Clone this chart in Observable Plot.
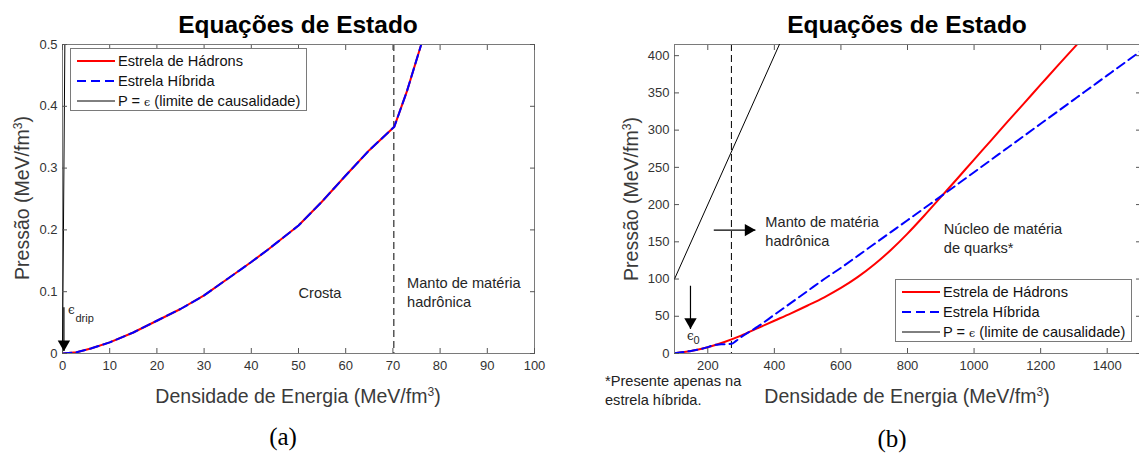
<!DOCTYPE html>
<html>
<head>
<meta charset="utf-8">
<script src="https://cdn.jsdelivr.net/npm/d3@7"></script>
<script src="https://cdn.jsdelivr.net/npm/@observablehq/plot@0.6"></script>
<style>
  html, body { margin: 0; padding: 0; background: #fff; overflow: hidden; }
  #root { position: relative; width: 1139px; height: 454px; overflow: hidden;
          font-family: "Liberation Sans", Arial, sans-serif; }
  .abs { position: absolute; white-space: nowrap; }
  .plot { position: absolute; top: 0; }
  .title { font-weight: bold; font-size: 24.5px; line-height: 25px; color: #000; transform: translateX(-50%); }
  .xlab { font-size: 19.5px; line-height: 20px; color: #3a3a3a; transform: translateX(-50%); }
  .ylab { font-size: 19.5px; line-height: 20px; color: #3a3a3a; transform: translate(-50%, -50%) rotate(-90deg); }
  sup { font-size: 0.62em; vertical-align: 0.6em; line-height: 0; }
  .cap { font-family: "Liberation Serif", "DejaVu Serif", serif; font-size: 25px; line-height: 26px; color: #000; transform: translate(-50%, -50%); }
  .foot { font-size: 14.6px; line-height: 19px; color: #222; }
  .legend { position: absolute; background: #fff; border: 1px solid #7a7a7a; box-sizing: border-box; }
  .legrow { position: absolute; left: 0; height: 18px; line-height: 18px; font-size: 14.6px; color: #111; white-space: nowrap; }
  .legrow svg { position: absolute; left: 6px; top: 7px; }
  .legrow span.t { position: absolute; left: 47px; top: 0; }
  .eps { font-family: "DejaVu Serif", serif; font-size: 11px; }
</style>
</head>
<body>
<div id="root"></div>
<script>
// ---------------- Panel (a): crust region ----------------
const epsHadronA = [0, 3, 6, 10, 15, 20, 25, 30, 35, 40, 43.5, 50, 55, 60, 65, 70.3, 73, 76, 78];
const presHadronA = [0, 0.002, 0.008, 0.018, 0.034, 0.053, 0.072, 0.094, 0.121, 0.148, 0.168, 0.207, 0.246, 0.288, 0.329, 0.367, 0.425, 0.5, 0.55];
const epsHybridA = [0, 3, 6, 10, 15, 20, 25, 30, 35, 40, 43.5, 50, 55, 60, 65, 70.3, 73, 76, 78];
const presHybridA = [0, 0.002, 0.008, 0.018, 0.034, 0.053, 0.072, 0.094, 0.121, 0.148, 0.168, 0.207, 0.246, 0.288, 0.329, 0.367, 0.425, 0.5, 0.55];
const epsCausalA = [0, 0.6];
const presCausalA = [0, 0.6];
const xTicksA = [0, 10, 20, 30, 40, 50, 60, 70, 80, 90, 100];
const yTicksA = [0, 0.1, 0.2, 0.3, 0.4, 0.5];
const transitionA = [70.2];
const textsA = [
  {x: 50, y: 0.1, label: "Crosta"},
  {x: 73, y: 0.1, label: "Manto de matéria\nhadrônica"}
];
const epsLabelA = [{x: 1.9, y: 0.07, label: "ϵ"}];
const epsSubA = [{x: 2.75, y: 0.057, label: "drip"}];
const arrowsA = [{x1: 0.3, y1: 0.075, x2: 0.3, y2: 0.004}];
const downHeadsA = [{x: 0.3, y: 0.004}];
const rightHeadsA = [];

// ---------------- Panel (b): full EOS ----------------
const epsHadronB = [100, 150, 200, 250, 300, 350, 400, 450, 500, 550, 600, 650, 700, 750, 800, 850, 900, 950, 1000, 1050, 1100, 1150, 1200, 1250, 1300, 1350];
const presHadronB = [0.5, 3.5, 8.5, 15.5, 24, 34, 44, 54, 64.5, 75.5, 88, 102.5, 119.5, 139, 161, 185, 210, 235, 260.5, 285.5, 311, 336, 361, 386, 410.5, 435];
const epsHybridB = [100, 150, 200, 215, 240, 271, 285, 300, 350, 400, 450, 500, 550, 600, 650, 700, 750, 800, 850, 900, 1000, 1100, 1200, 1300, 1400, 1500];
const presHybridB = [0.5, 3.5, 8.5, 11, 12.3, 13, 17, 22, 36, 52, 68, 84, 100, 115, 131, 147, 163, 179, 195, 211, 243.5, 276, 308.5, 341, 373.5, 406];
const epsCausalB = [100, 500];
const presCausalB = [100, 500];
const xTicksB = [200, 400, 600, 800, 1000, 1200, 1400];
const yTicksB = [0, 50, 100, 150, 200, 250, 300, 350, 400];
const transitionB = [271];
const textsB = [
  {x: 373, y: 165, label: "Manto de matéria\nhadrônica"},
  {x: 909, y: 156.5, label: "Núcleo de matéria\nde quarks*"}
];
const epsLabelB = [{x: 148, y: 23.6, label: "ϵ"}];
const epsSubB = [{x: 157, y: 17, label: "0"}];
const arrowsB = [
  {x1: 218, y1: 165.7, x2: 343, y2: 165.7},
  {x1: 148, y1: 91, x2: 148, y2: 33}
];
const downHeadsB = [{x: 148, y: 33}];
const rightHeadsB = [{x: 343, y: 165.7}];

// ---------------- Legend ----------------
const legendLabels = ["Estrela de Hádrons", "Estrela Híbrida", "P = ϵ (limite de causalidade)"];
const legendColors = ["#ff0000", "#0000ff", "#000000"];
const legendDashes = [null, "9,5", null];
const legendWidths = [2, 2, 1];

const toRows = (es, ps) => es.map((e, i) => ({e, p: ps[i]}));

function panel(o) {
  const axisStyle = {stroke: "#555", label: null};
  return Plot.plot({
    width: o.width, height: 454,
    marginLeft: o.marginLeft, marginRight: o.marginRight, marginTop: 44, marginBottom: 101,
    x: {domain: o.xDomain, label: null},
    y: {domain: o.yDomain, label: null},
    style: {fontFamily: "'Liberation Sans', Arial, sans-serif", fontSize: "13px", color: "#333", background: "transparent", overflow: "visible"},
    marks: [
      Plot.ruleX(o.transition, {x: d => d, stroke: "#000", strokeWidth: 1, strokeDasharray: "7,4"}),
      Plot.line(o.hadron, {x: "e", y: "p", stroke: "#ff0000", strokeWidth: 2, curve: o.curve, clip: true}),
      Plot.line(o.hybrid, {x: "e", y: "p", stroke: "#0000ff", strokeWidth: 2, strokeDasharray: "9,5", curve: o.curve, clip: true}),
      Plot.frame({stroke: "#7a7a7a"}),
      Plot.line(o.causal, {x: "e", y: "p", stroke: "#000", strokeWidth: 1, clip: true}),
      Plot.axisX(o.xTicks, {anchor: "bottom", tickSize: 0, tickPadding: 7, tickFormat: d => String(d), label: null, fill: "#333"}),
      Plot.axisX(o.xTicks, {anchor: "bottom", tickSize: -5, fill: "none", ...axisStyle}),
      Plot.axisX(o.xTicks, {anchor: "top", tickSize: -5, fill: "none", ...axisStyle}),
      Plot.axisY(o.yTicks, {anchor: "left", tickSize: 0, tickPadding: 5, tickFormat: d => String(d), label: null, fill: "#333"}),
      Plot.axisY(o.yTicks, {anchor: "left", tickSize: -5, fill: "none", ...axisStyle}),
      Plot.axisY(o.yTicks, {anchor: "right", tickSize: -5, fill: "none", ...axisStyle}),
      Plot.text(o.texts, {x: "x", y: "y", text: "label", textAnchor: "start", lineAnchor: "middle", lineHeight: 1.3, fontSize: 14.6, fill: "#262626"}),
      Plot.text(o.epsLabel, {x: "x", y: "y", text: "label", textAnchor: "middle", fontSize: 12, fontFamily: "'DejaVu Serif', serif", fill: "#262626"}),
      Plot.text(o.epsSub, {x: "x", y: "y", text: "label", textAnchor: "start", fontSize: 11, fill: "#262626"}),
      Plot.link(o.arrows, {x1: "x1", y1: "y1", x2: "x2", y2: "y2", stroke: "#000", strokeWidth: 1.2}),
      Plot.dot(o.downHeads, {x: "x", y: "y", symbol: "triangle", rotate: 180, r: 4.6, fill: "#000", stroke: "none", dy: -7}),
      Plot.dot(o.rightHeads, {x: "x", y: "y", symbol: "triangle", rotate: 90, r: 4.6, fill: "#000", stroke: "none", dx: -7})
    ]
  });
}

const root = document.getElementById("root");

const plotA = panel({
  width: 569, marginLeft: 62, marginRight: 35,
  xDomain: [0, 100], yDomain: [0, 0.5], xTicks: xTicksA, yTicks: yTicksA,
  hadron: toRows(epsHadronA, presHadronA), hybrid: toRows(epsHybridA, presHybridA),
  causal: toRows(epsCausalA, presCausalA), transition: transitionA, curve: "linear",
  texts: textsA, epsLabel: epsLabelA, epsSub: epsSubA, arrows: arrowsA,
  downHeads: downHeadsA, rightHeads: rightHeadsA
});
plotA.classList.add("plot");
plotA.style.left = "0px";
root.appendChild(plotA);

const plotB = panel({
  width: 575, marginLeft: 105, marginRight: 4,
  xDomain: [100, 1500], yDomain: [0, 415], xTicks: xTicksB, yTicks: yTicksB,
  hadron: toRows(epsHadronB, presHadronB), hybrid: toRows(epsHybridB, presHybridB),
  causal: toRows(epsCausalB, presCausalB), transition: transitionB, curve: "monotone-x",
  texts: textsB, epsLabel: epsLabelB, epsSub: epsSubB, arrows: arrowsB,
  downHeads: downHeadsB, rightHeads: rightHeadsB
});
plotB.classList.add("plot");
plotB.style.left = "569px";
root.appendChild(plotB);

function addDiv(cls, html, left, top) {
  const d = document.createElement("div");
  d.className = "abs " + cls;
  d.innerHTML = html;
  d.style.left = left + "px";
  d.style.top = top + "px";
  root.appendChild(d);
  return d;
}

// Titles, axis labels, captions
addDiv("title", "Equações de Estado", 298, 12);
addDiv("title", "Equações de Estado", 907, 12);
addDiv("xlab", "Densidade de Energia (MeV/fm<sup>3</sup>)", 298, 386);
addDiv("xlab", "Densidade de Energia (MeV/fm<sup>3</sup>)", 907, 386);
addDiv("ylab", "Pressão (MeV/fm<sup>3</sup>)", 22, 198);
addDiv("ylab", "Pressão (MeV/fm<sup>3</sup>)", 631, 199);
addDiv("cap", "(a)", 283, 437);
addDiv("cap", "(b)", 892, 439);
addDiv("foot", "*Presente apenas na<br>estrela híbrida.", 605, 372);

// Legends
function addLegend(left, top) {
  const box = document.createElement("div");
  box.className = "legend";
  Object.assign(box.style, {left: left + "px", top: top + "px", width: "237px", height: "63px"});
  legendLabels.forEach((lab, i) => {
    const row = document.createElement("div");
    row.className = "legrow";
    row.style.top = (13 + 20 * i - 9 - 1) + "px";
    row.style.width = "235px";
    const dash = legendDashes[i] ? ` stroke-dasharray="${legendDashes[i]}"` : "";
    const txt = lab.replace("ϵ", '<span class="eps">ϵ</span>');
    row.innerHTML = `<svg width="40" height="4"><line x1="0" y1="2" x2="38" y2="2" stroke="${legendColors[i]}" stroke-width="${legendWidths[i]}"${dash}/></svg><span class="t">${txt}</span>`;
    box.appendChild(row);
  });
  root.appendChild(box);
}
addLegend(70, 48);
addLegend(895, 279);
</script>
</body>
</html>
